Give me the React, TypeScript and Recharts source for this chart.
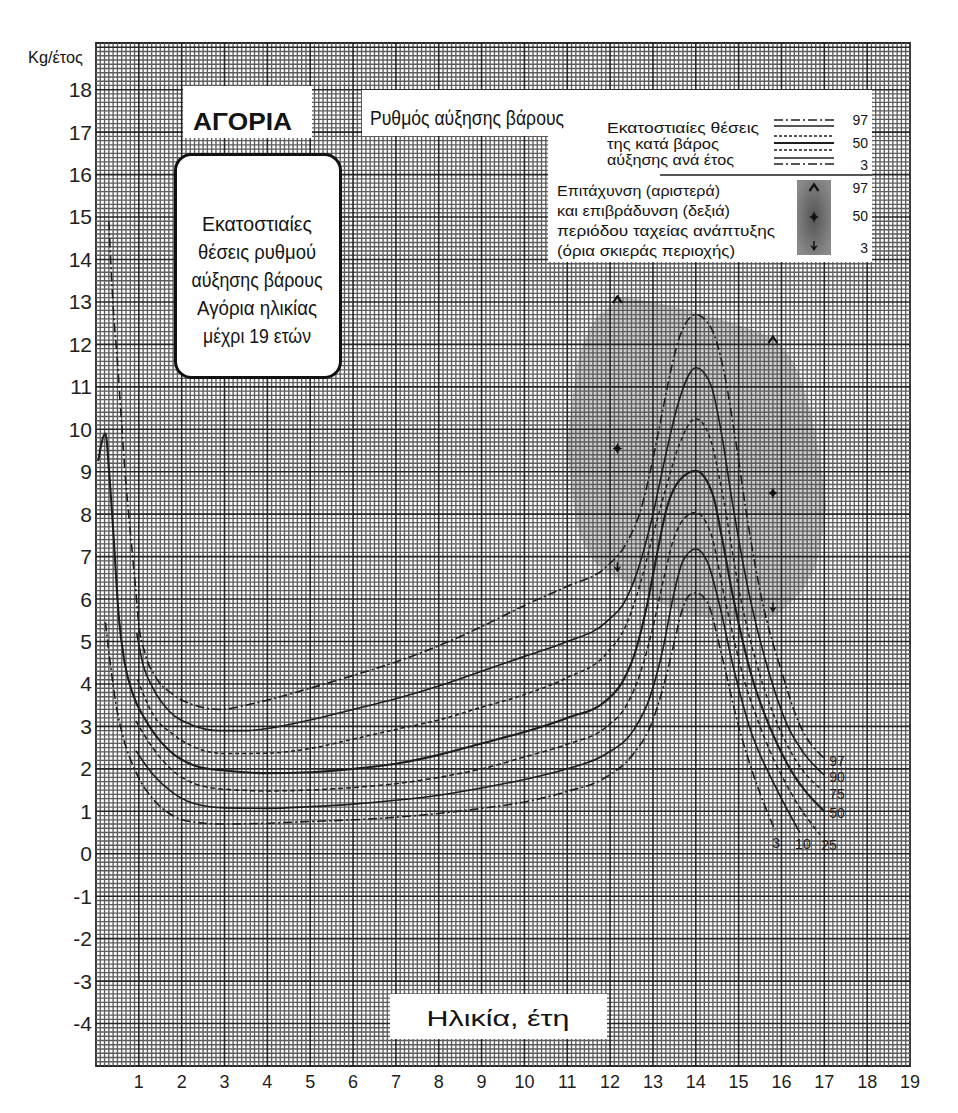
import { Area, ComposedChart, Line, ReferenceArea, ReferenceLine, Scatter, XAxis, YAxis } from "recharts"

const FONT = "'Liberation Sans', Arial, Helvetica, sans-serif"
const INK = "#1e1e1e"

// axes: age in years, weight gain in kg per year
const ageTicks = [1, 2, 3, 4, 5, 6, 7, 8, 9, 10, 11, 12, 13, 14, 15, 16, 17, 18, 19]
const rateTicks = [-4, -3, -2, -1, 0, 1, 2, 3, 4, 5, 6, 7, 8, 9, 10, 11, 12, 13, 14, 15, 16, 17, 18]
// millimetre paper, ten fine lines per unit
const gridAgeFine = Array.from({ length: 189 }, (_, i) => Math.round(i + 1 + Math.floor(i / 9)) / 10).filter((v) => v % 1 !== 0)
const gridRateFine = Array.from({ length: 240 }, (_, i) => (i - 49) / 10).filter((v) => Math.abs(v % 1) > 0.001)
const gridAgeMajor = ageTicks.slice(0, 18)
const gridRateMajor = [...rateTicks, 19]

// percentile curves, [age, kg/year]
const p97: [number, number][] = [
  [0.3, 14.9], [0.4, 12.9], [0.5, 11.6], [0.6, 10.1], [0.7, 8.7], [0.8, 7.6], [0.92, 6.3], [1.0, 5.4],
  [1.15, 4.7], [1.4, 4.15], [1.8, 3.75], [2.3, 3.5], [2.9, 3.4], [3.5, 3.5], [4, 3.62], [5, 3.9],
  [6, 4.2], [7, 4.52], [8, 4.9], [9, 5.35], [10, 5.85], [11, 6.3], [11.9, 6.75], [12.4, 7.35],
  [12.7, 8.05], [13.0, 9.3], [13.2, 10.3], [13.4, 11.3], [13.65, 12.25], [14.0, 12.7], [14.35, 12.4],
  [14.65, 11.4], [14.92, 9.8], [15.2, 7.9], [15.54, 6.0], [16.0, 4.3], [16.4, 3.1], [17.0, 2.25],
]
const p90: [number, number][] = [
  [0.95, 5.2], [1.1, 4.45], [1.32, 3.92], [1.7, 3.37], [2.25, 3.03], [2.9, 2.9], [3.5, 2.9], [4, 2.95],
  [5, 3.15], [6, 3.4], [7, 3.65], [8, 3.95], [9, 4.3], [10, 4.65], [11, 5.0], [11.9, 5.45], [12.4, 6.05],
  [12.7, 6.85], [13.0, 8.0], [13.3, 9.4], [13.6, 10.65], [14.0, 11.45], [14.35, 11.05], [14.6, 9.9],
  [14.85, 8.3], [15.27, 6.0], [15.7, 4.3], [16.15, 3.0], [16.5, 2.4], [17.0, 1.85],
]
const p75: [number, number][] = [
  [0.97, 4.1], [1.32, 3.3], [1.79, 2.82], [2.33, 2.5], [3.0, 2.36], [4, 2.37], [5, 2.48], [6, 2.7],
  [7, 2.93], [8, 3.15], [9, 3.45], [10, 3.75], [11, 4.15], [11.9, 4.7], [12.4, 5.45], [12.7, 6.35],
  [13.0, 7.5], [13.3, 8.6], [13.6, 9.6], [14.0, 10.25], [14.33, 9.8], [14.6, 8.6], [15.05, 6.0],
  [15.5, 4.2], [15.93, 3.0], [16.4, 2.1], [16.95, 1.5],
]
const p50: [number, number][] = [
  [0.05, 9.25], [0.22, 9.9], [0.31, 8.95], [0.39, 7.8], [0.54, 5.5], [0.66, 4.55], [0.86, 3.76],
  [1.17, 3.13], [1.71, 2.43], [2.33, 2.07], [3.0, 1.96], [4, 1.9], [5, 1.92], [6, 2.0], [7, 2.12],
  [8, 2.33], [9, 2.6], [10, 2.87], [11, 3.2], [11.9, 3.6], [12.3, 4.07], [12.62, 4.86], [12.85, 5.8],
  [13.08, 6.98], [13.31, 8.1], [13.62, 8.8], [14.0, 9.02], [14.4, 8.45], [14.6, 7.5], [14.88, 6.0],
  [15.3, 4.2], [15.72, 3.0], [16.2, 2.0], [17.0, 1.0],
]
const p25: [number, number][] = [
  [0.93, 3.13], [1.32, 2.5], [1.79, 1.96], [2.33, 1.64], [3.0, 1.52], [4, 1.48], [5, 1.5], [6, 1.56],
  [7, 1.65], [8, 1.8], [9, 2.0], [10, 2.28], [11, 2.58], [11.9, 2.98], [12.4, 3.53], [12.7, 4.24],
  [13.0, 5.34], [13.24, 6.43], [13.47, 7.37], [13.78, 7.95], [14.0, 8.04], [14.35, 7.55], [14.68, 6.0],
  [15.1, 4.2], [15.5, 3.0], [16.3, 1.3], [16.9, 0.45],
]
const p10: [number, number][] = [
  [0.93, 2.43], [1.32, 1.88], [1.79, 1.44], [2.33, 1.17], [3.0, 1.08], [4, 1.07], [5, 1.11], [6, 1.17],
  [7, 1.26], [8, 1.38], [9, 1.55], [10, 1.75], [11, 2.0], [11.9, 2.35], [12.54, 2.9], [12.93, 3.69],
  [13.24, 4.86], [13.47, 6.04], [13.7, 6.9], [14.0, 7.18], [14.3, 6.8], [14.52, 6.0], [14.9, 4.3],
  [15.25, 3.0], [15.9, 1.5], [16.43, 0.5],
]
const p3: [number, number][] = [
  [0.22, 5.45], [0.35, 4.35], [0.47, 3.5], [0.62, 2.8], [0.93, 1.93], [1.32, 1.3], [1.79, 0.9],
  [2.33, 0.74], [3.0, 0.7], [4, 0.72], [5, 0.76], [6, 0.8], [7, 0.86], [8, 0.95], [9, 1.07], [10, 1.22],
  [11, 1.47], [11.9, 1.8], [12.54, 2.35], [12.93, 2.98], [13.24, 3.92], [13.47, 4.86], [13.7, 5.8],
  [13.86, 6.1], [14.0, 6.15], [14.28, 5.9], [14.6, 4.7], [15.0, 3.0], [15.4, 1.7], [15.85, 0.55],
]

// shaded zone of the growth spurt
const shadeAge = [11.0, 11.2, 11.5, 12.0, 12.2, 13.0, 14.0, 15.0, 15.8, 16.2, 16.6, 16.9, 17.05]
const shadeLow = [9.6, 7.9, 7.1, 6.6, 6.5, 6.0, 5.6, 5.5, 5.6, 5.9, 6.4, 7.2, 8.2]
const shadeHigh = [9.6, 11.3, 12.3, 12.9, 13.1, 13.0, 12.75, 12.45, 12.1, 11.7, 10.7, 9.3, 8.2]

// acceleration (left) and deceleration (right) limits
const spurtAge = [12.17, 12.17, 12.17, 15.8, 15.8, 15.8]
const spurtRate = [13.05, 9.55, 6.75, 12.1, 8.5, 5.8]
const spurtKind = ["97", "50", "3", "97", "50", "3"]

const toRows = (pts: [number, number][]) => pts.map(([age, kg]) => ({ age, kg }))

const series = [
  { name: "97", pts: p97, dash: "9 3 2 3", w: 1.6, dx: 5, dy: 3, anchor: "start" },
  { name: "90", pts: p90, dash: undefined, w: 1.6, dx: 5, dy: 2, anchor: "start" },
  { name: "75", pts: p75, dash: "4 3", w: 1.5, dx: 7, dy: 4, anchor: "start" },
  { name: "50", pts: p50, dash: undefined, w: 2.1, dx: 5, dy: 2, anchor: "start" },
  { name: "25", pts: p25, dash: "5 3", w: 1.5, dx: 9, dy: 10, anchor: "middle" },
  { name: "10", pts: p10, dash: undefined, w: 1.6, dx: 3, dy: 11, anchor: "middle" },
  { name: "3", pts: p3, dash: "9 3 2 3", w: 1.6, dx: 1, dy: 13, anchor: "middle" },
]

const shadeRows = shadeAge.map((age, i) => ({ age, band: [shadeLow[i], shadeHigh[i]] }))
const spurtRows = spurtAge.map((age, i) => ({ age, kg: spurtRate[i], kind: spurtKind[i] }))

function Glyph({ x, y, kind }: { x: number; y: number; kind: string }) {
  if (kind === "97") {
    return <path d={`M${x - 4.5},${y + 3} L${x},${y - 3.5} L${x + 4.5},${y + 3}`} fill="none" stroke="#111" strokeWidth={2.2} />
  }
  if (kind === "50") {
    return (
      <path
        d={`M${x},${y - 6} Q${x + 1},${y - 1} ${x + 5},${y} Q${x + 1},${y + 1} ${x},${y + 6} Q${x - 1},${y + 1} ${x - 5},${y} Q${x - 1},${y - 1} ${x},${y - 6} Z`}
        fill="#111"
      />
    )
  }
  return (
    <g>
      <path d={`M${x - 4},${y - 1} L${x},${y + 5} L${x + 4},${y - 1} L${x},${y + 1} Z`} fill="#111" />
      <line x1={x} y1={y - 5} x2={x} y2={y + 1} stroke="#111" strokeWidth={1.5} />
    </g>
  )
}

function T(props: { x: number; y: number; w?: number; size: number; anchor?: string; weight?: number; children: string }) {
  const { x, y, w, size, anchor = "start", weight = 400, children } = props
  return (
    <text
      x={x}
      y={y}
      fontSize={size}
      fontFamily={FONT}
      fontWeight={weight}
      fill="#141414"
      textAnchor={anchor as any}
      dominantBaseline="central"
      textLength={w}
      lengthAdjust={w ? "spacingAndGlyphs" : undefined}
    >
      {children}
    </text>
  )
}

function Overlay() {
  const legendLines = [
    { y: 120, dash: "9 3 2 3", w: 1.4 },
    { y: 126, dash: undefined, w: 1.4 },
    { y: 136, dash: "3 2", w: 1.3 },
    { y: 143, dash: undefined, w: 2.2 },
    { y: 150, dash: "3 2", w: 1.3 },
    { y: 158, dash: undefined, w: 1.4 },
    { y: 164, dash: "9 3 2 3", w: 1.4 },
  ]
  return (
    <svg width={958} height={1113} style={{ position: "absolute", left: 0, top: 0, pointerEvents: "none" }}>
      <defs>
        <radialGradient id="sw" cx="50%" cy="50%" r="60%">
          <stop offset="0%" stopColor="#555" />
          <stop offset="100%" stopColor="#8a8a8a" />
        </radialGradient>
      </defs>
      <T x={28} y={57} w={55} size={16}>Kg/έτος</T>

      <rect x={183} y={86} width={129} height={52} fill="#fff" />
      <T x={193} y={121} w={99} size={24} weight={700}>ΑΓΟΡΙΑ</T>

      <rect x={175.5} y={154.5} width={165} height={223} rx={16} fill="#fff" stroke="#111" strokeWidth={3} />
      <T x={257} y={224} w={110} size={20} anchor="middle">Εκατοστιαίες</T>
      <T x={257} y={252} w={118} size={20} anchor="middle">θέσεις ρυθμού</T>
      <T x={257} y={280} w={131} size={20} anchor="middle">αύξησης βάρους</T>
      <T x={257} y={308} w={120} size={20} anchor="middle">Αγόρια ηλικίας</T>
      <T x={257} y={336} w={108} size={20} anchor="middle">μέχρι 19 ετών</T>

      <path d="M362,90 H872 V262 H548 V136 H362 Z" fill="#fff" />
      <T x={370} y={118} w={194} size={20}>Ρυθμός αύξησης βάρους</T>
      <T x={607} y={127} w={152} size={15}>Εκατοστιαίες θέσεις</T>
      <T x={607} y={143} w={112} size={15}>της κατά βάρος</T>
      <T x={607} y={159} w={127} size={15}>αύξησης ανά έτος</T>
      {legendLines.map((l, i) => (
        <line key={i} x1={774} x2={834} y1={l.y} y2={l.y} stroke={INK} strokeWidth={l.w} strokeDasharray={l.dash} />
      ))}
      <T x={868} y={120} size={14} anchor="end">97</T>
      <T x={868} y={143} size={14} anchor="end">50</T>
      <T x={868} y={165} size={14} anchor="end">3</T>
      <line x1={660} x2={872} y1={175} y2={175} stroke={INK} strokeWidth={1.5} />
      <T x={557} y={190} w={163} size={15}>Επιτάχυνση (αριστερά)</T>
      <T x={557} y={210} w={173} size={15}>και επιβράδυνση (δεξιά)</T>
      <T x={557} y={230} w={218} size={15}>περιόδου ταχείας ανάπτυξης</T>
      <T x={557} y={250} w={178} size={15}>(όρια σκιεράς περιοχής)</T>
      <rect x={797} y={180} width={34} height={75} fill="url(#sw)" />
      <Glyph x={814} y={188} kind="97" />
      <Glyph x={814} y={217} kind="50" />
      <Glyph x={814} y={246} kind="3" />
      <T x={868} y={188} size={14} anchor="end">97</T>
      <T x={868} y={216} size={14} anchor="end">50</T>
      <T x={868} y={248} size={14} anchor="end">3</T>

      <rect x={390} y={994} width={217} height={45} fill="#fff" />
      <T x={498} y={1018} w={143} size={22} anchor="middle">Ηλικία, έτη</T>
    </svg>
  )
}

export default function App() {
  return (
    <div style={{ position: "absolute", left: 0, top: 0, width: 958, height: 1113, background: "#fff" }}>
      <ComposedChart width={958} height={1113} margin={{ top: 43, right: 48, bottom: 17, left: 56 }}>
        <XAxis
          dataKey="age"
          type="number"
          domain={[0, 19]}
          ticks={ageTicks}
          interval={0}
          allowDataOverflow
          tickLine={false}
          axisLine={false}
          tickSize={0}
          tickMargin={9}
          height={30}
          tick={{ fontSize: 18, fill: INK, fontFamily: FONT }}
        />
        <YAxis
          dataKey="kg"
          type="number"
          domain={[-5, 19.1]}
          ticks={rateTicks}
          interval={0}
          allowDataOverflow
          tickLine={false}
          axisLine={false}
          tickSize={0}
          tickMargin={4}
          width={40}
          tick={{ fontSize: 21, fill: INK, fontFamily: FONT }}
        />
        {gridAgeFine.map((v) => (
          <ReferenceLine key={`fx${v}`} x={v} stroke="#5c5c5c" strokeWidth={1.35} />
        ))}
        {gridRateFine.map((v) => (
          <ReferenceLine key={`fy${v}`} y={v} stroke="#5c5c5c" strokeWidth={1.35} />
        ))}
        {gridAgeMajor.map((v) => (
          <ReferenceLine key={`mx${v}`} x={v} stroke="#262626" strokeWidth={1.6} />
        ))}
        {gridRateMajor.map((v) => (
          <ReferenceLine key={`my${v}`} y={v} stroke="#262626" strokeWidth={1.6} />
        ))}
        <ReferenceArea x1={0} x2={19} y1={-5} y2={19.1} fill="none" stroke="#262626" strokeWidth={1.8} />
        <Area
          data={shadeRows}
          dataKey="band"
          type="monotone"
          fill="#111"
          fillOpacity={0.2}
          stroke="none"
          isAnimationActive={false}
        />
        {series.map((s) => {
          const last = s.pts.length - 1
          return (
            <Line
              key={s.name}
              data={toRows(s.pts)}
              dataKey="kg"
              type="monotone"
              stroke={INK}
              strokeWidth={s.w}
              strokeDasharray={s.dash}
              dot={false}
              activeDot={false}
              isAnimationActive={false}
              label={(p: any) =>
                p.index === last ? (
                  <text
                    key={`end-${s.name}`}
                    x={p.x + s.dx}
                    y={p.y + s.dy}
                    fontSize={14}
                    fontFamily={FONT}
                    fill="#1e1e1e"
                    textAnchor={s.anchor as any}
                    dominantBaseline="central"
                  >
                    {s.name}
                  </text>
                ) : (
                  <g key={`n-${s.name}-${p.index}`} />
                )
              }
            />
          )
        })}
        <Scatter
          data={spurtRows}
          dataKey="kg"
          isAnimationActive={false}
          shape={(p: any) => <Glyph x={p.cx} y={p.cy} kind={p.payload.kind} />}
        />
      </ComposedChart>
      <Overlay />
    </div>
  )
}
